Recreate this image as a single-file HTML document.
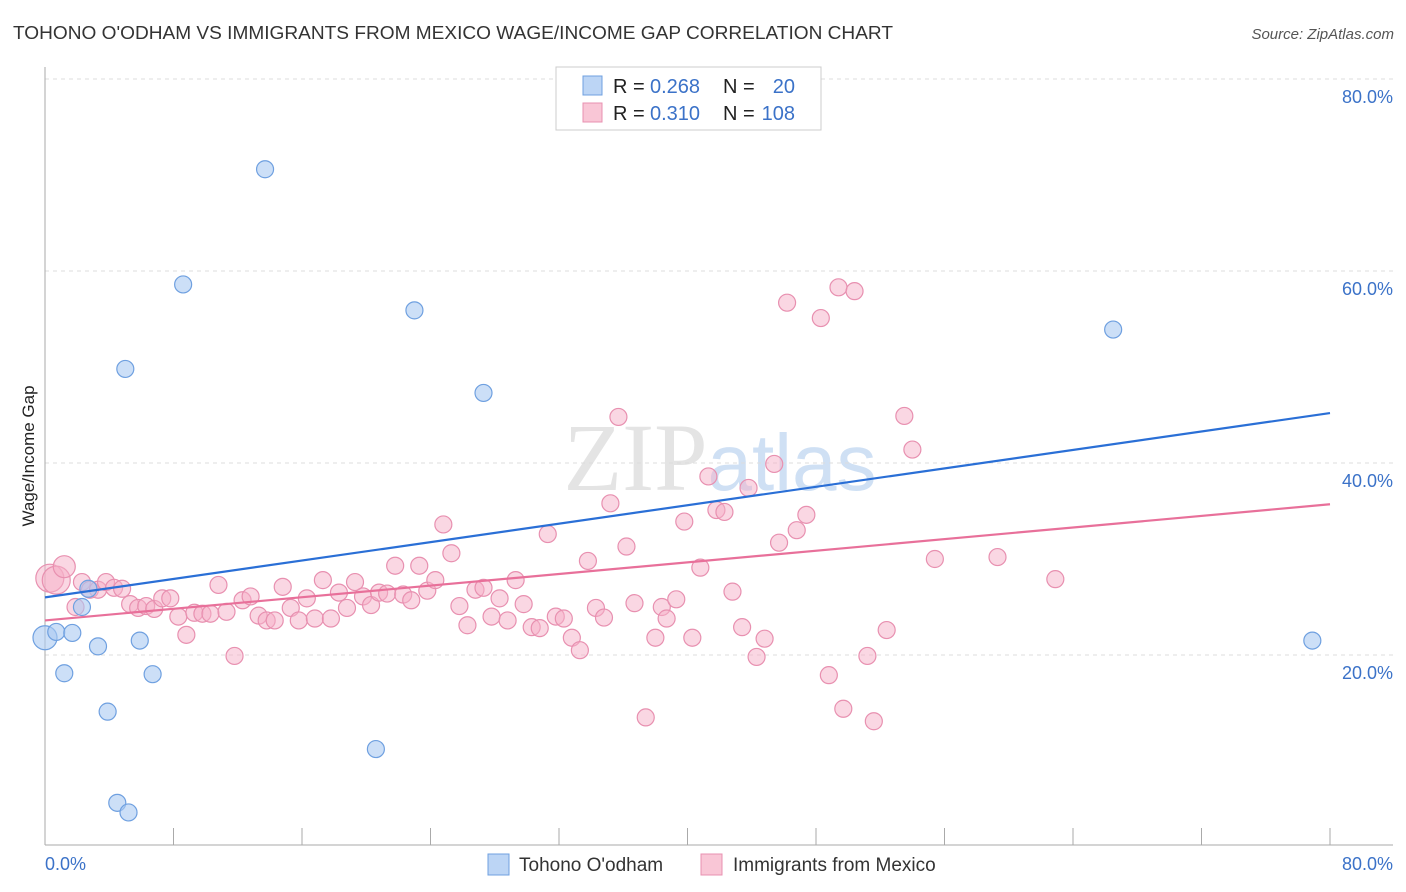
<!DOCTYPE html>
<html><head><meta charset="utf-8"><style>
body{margin:0;background:#fff;font-family:"Liberation Sans",sans-serif;}
svg{display:block}
</style></head><body>
<svg id="chart" width="1406" height="892" xmlns="http://www.w3.org/2000/svg">
<text x="13" y="39" font-size="18" fill="#333" textLength="880" lengthAdjust="spacingAndGlyphs">TOHONO O'ODHAM VS IMMIGRANTS FROM MEXICO WAGE/INCOME GAP CORRELATION CHART</text>
<text x="1394" y="39" font-size="15" fill="#555" font-style="italic" text-anchor="end">Source: ZipAtlas.com</text>
<text x="720" y="490" font-size="96" fill="#e4e4e4" text-anchor="middle" font-family="Liberation Serif,serif">ZIP<tspan fill="#cfe0f4" font-family="Liberation Sans,sans-serif" font-size="80">atlas</tspan></text>
<g id="grid"></g>
<g id="axes"></g>
<g id="marks"></g>
<text x="34" y="456" font-size="17" fill="#222" text-anchor="middle" transform="rotate(-90 34 456)">Wage/Income Gap</text>
<g>
<rect x="556" y="67" width="265" height="63" fill="#fff" stroke="#ccc"/>
<rect x="583" y="76" width="19" height="19" fill="#bcd5f5" stroke="#6fa0e0"/>
<rect x="583" y="103" width="19" height="19" fill="#f9c6d6" stroke="#e890b0"/>
<text x="613" y="93" font-size="20" fill="#222">R =</text>
<text x="650" y="93" font-size="20" fill="#3b72c8">0.268</text>
<text x="723" y="93" font-size="20" fill="#222">N =</text>
<text x="795" y="93" font-size="20" fill="#3b72c8" text-anchor="end">20</text>
<text x="613" y="120" font-size="20" fill="#222">R =</text>
<text x="650" y="120" font-size="20" fill="#3b72c8">0.310</text>
<text x="723" y="120" font-size="20" fill="#222">N =</text>
<text x="795" y="120" font-size="20" fill="#3b72c8" text-anchor="end">108</text>
</g>
<g>
<rect x="488" y="854" width="21" height="21" fill="#bcd5f5" stroke="#6fa0e0"/>
<text x="519" y="871" font-size="19" fill="#333">Tohono O'odham</text>
<rect x="701" y="854" width="21" height="21" fill="#f9c6d6" stroke="#e890b0"/>
<text x="733" y="871" font-size="19" fill="#333">Immigrants from Mexico</text>
</g>
</svg>
<script>
const yTicks=[20,40,60,80];
const yTickLabels=["20.0%","40.0%","60.0%","80.0%"];
const xTickVals=[0,8,16,24,32,40,48,56,64,72,80];
const blueX=[0,0.7,1.7,1.2,2.3,2.7,3.3,3.9,4.5,5.2,5.0,5.9,6.7,8.6,13.7,20.6,23.0,27.3,66.5,78.9];
const blueY=[21.8,22.4,22.3,18.1,25.0,26.9,20.9,14.1,4.6,3.6,49.8,21.5,18.0,58.6,70.6,10.2,55.9,47.3,53.9,21.5];
const pinkX=[0.3,0.7,1.2,1.9,2.3,2.8,3.3,3.8,4.3,4.8,5.3,5.8,6.3,6.8,7.3,7.8,8.3,8.8,9.3,9.8,10.3,10.8,11.3,11.8,12.3,12.8,13.3,13.8,14.3,14.8,15.3,15.8,16.3,16.8,17.3,17.8,18.3,18.8,19.3,19.8,20.3,20.8,21.3,21.8,22.3,22.8,23.3,23.8,24.3,24.8,25.3,25.8,26.3,26.8,27.3,27.8,28.3,28.8,29.3,29.8,30.3,30.8,31.3,31.8,32.3,32.8,33.3,33.8,34.3,34.8,35.2,35.7,36.2,36.7,37.4,38.0,38.4,38.7,39.3,39.8,40.3,40.8,41.3,41.8,42.3,42.8,43.4,43.8,44.3,44.8,45.4,45.7,46.2,46.8,47.4,48.3,48.8,49.4,49.7,50.4,51.2,51.6,52.4,53.5,54.0,55.4,59.3,62.9];
const pinkY=[28.0,27.8,29.2,25.0,27.6,26.8,26.8,27.6,27.0,26.9,25.3,24.9,25.1,24.8,25.9,25.9,24.0,22.1,24.4,24.3,24.3,27.3,24.5,19.9,25.7,26.1,24.1,23.6,23.6,27.1,24.9,23.6,25.9,23.8,27.8,23.8,26.5,24.9,27.6,26.1,25.2,26.5,26.4,29.3,26.3,25.7,29.3,26.7,27.8,33.6,30.6,25.1,23.1,26.8,27.0,24.0,25.9,23.6,27.8,25.3,22.9,22.8,32.6,24.0,23.8,21.8,20.5,29.8,24.9,23.9,35.8,44.8,31.3,25.4,13.5,21.8,25.0,23.8,25.8,33.9,21.8,29.1,38.6,35.1,34.9,26.6,22.9,37.4,19.8,21.7,39.9,31.7,56.7,33.0,34.6,55.1,17.9,58.3,14.4,57.9,19.9,13.1,22.6,44.9,41.4,30.0,30.2,27.9];
const blueTrend=[26.0,45.2];
const pinkTrend=[23.6,35.7];
const NS="http://www.w3.org/2000/svg";
const sx=v=>45+v/80*1285;
const sy=v=>847-v*9.6;
function mk(tag,attrs,parent){const e=document.createElementNS(NS,tag);for(const k in attrs)e.setAttribute(k,attrs[k]);parent.appendChild(e);return e;}
const grid=document.getElementById('grid'),axes=document.getElementById('axes'),marks=document.getElementById('marks');
yTicks.forEach((t,i)=>{
  const l=mk('line',{x1:45,x2:1393,y1:sy(t),y2:sy(t),stroke:'#ddd','stroke-dasharray':'4,4'},grid);
  
  
  const tx=mk('text',{x:1393,y:sy(t)+24,'font-size':18,fill:'#3b72c8','text-anchor':'end'},axes);
  tx.textContent=yTickLabels[i];
  
  
});
let a=mk('line',{x1:45,x2:45,y1:67,y2:845,stroke:'#aaa'},axes);


a=mk('line',{x1:45,x2:1393,y1:845,y2:845,stroke:'#aaa'},axes);


xTickVals.forEach(v=>{
  const t=mk('line',{x1:sx(v),x2:sx(v),y1:828,y2:845,stroke:'#aaa'},axes);
  
  
});
let xl=mk('text',{x:45,y:870,'font-size':18,fill:'#3b72c8'},axes);xl.textContent='0.0%';


xl=mk('text',{x:1393,y:870,'font-size':18,fill:'#3b72c8','text-anchor':'end'},axes);xl.textContent='80.0%';


pinkX.forEach((x,i)=>{
  const c=mk('circle',{cx:sx(x),cy:sy(pinkY[i]),r:i<2?14:(i==2?11:8.5),fill:'rgba(246,176,200,0.5)',stroke:'#e890b0','stroke-width':1.2},marks);
  
  
});
blueX.forEach((x,i)=>{
  const c=mk('circle',{cx:sx(x),cy:sy(blueY[i]),r:i==0?12:8.5,fill:'rgba(170,202,242,0.6)',stroke:'#6fa0e0','stroke-width':1.2},marks);
  
  
});
let tl=mk('line',{x1:sx(0),y1:sy(blueTrend[0]),x2:sx(80),y2:sy(blueTrend[1]),stroke:'#2a6fd6','stroke-width':2.2},marks);


tl=mk('line',{x1:sx(0),y1:sy(pinkTrend[0]),x2:sx(80),y2:sy(pinkTrend[1]),stroke:'#e8709a','stroke-width':2.2},marks);


</script>
</body></html>
